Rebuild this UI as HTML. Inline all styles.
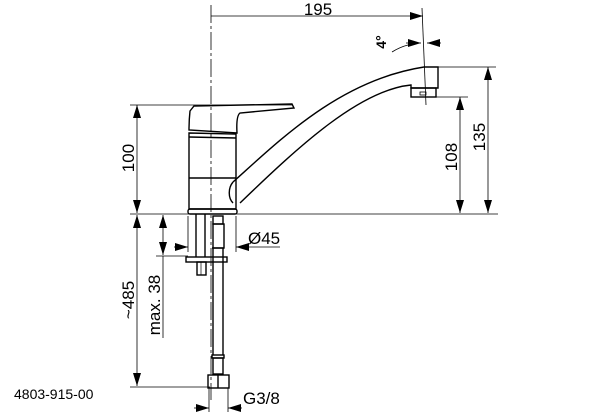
<!DOCTYPE html>
<html><head><meta charset="utf-8"><style>
html,body{margin:0;padding:0;background:#fff;width:614px;height:415px;overflow:hidden}
svg{display:block}
text{font-family:"Liberation Sans",sans-serif;fill:#000}
</style></head><body>
<svg width="614" height="415" viewBox="0 0 614 415" xmlns="http://www.w3.org/2000/svg">
<defs>
<marker id="a" markerWidth="13" markerHeight="8" refX="13" refY="4" orient="auto" markerUnits="userSpaceOnUse"><path d="M0,0 L13,4 L0,8 Z" fill="#000"/></marker>
</defs>
<g stroke="#000" fill="none" stroke-width="0.8">
<line x1="211" y1="5" x2="211" y2="400" stroke-dasharray="18,3,3,3"/>
<line x1="130" y1="105" x2="292" y2="105"/>
<line x1="130" y1="214" x2="498" y2="214"/>
<line x1="437" y1="67" x2="496" y2="67"/>
<line x1="436" y1="97" x2="468" y2="97"/>
<line x1="130" y1="387" x2="210" y2="387"/>
<line x1="156" y1="256" x2="188" y2="256"/>
<line x1="422" y1="8" x2="426" y2="105"/>
<line x1="188" y1="216" x2="188" y2="252"/>
<line x1="236" y1="216" x2="236" y2="252"/>
<line x1="209" y1="388" x2="209" y2="412"/>
<line x1="228" y1="388" x2="228" y2="412"/>
<line x1="211" y1="16" x2="423" y2="16" marker-end="url(#a)"/>
<line x1="137" y1="160" x2="137" y2="105" marker-end="url(#a)"/>
<line x1="137" y1="160" x2="137" y2="213" marker-end="url(#a)"/>
<line x1="460" y1="155" x2="460" y2="97" marker-end="url(#a)"/>
<line x1="460" y1="155" x2="460" y2="213" marker-end="url(#a)"/>
<line x1="488" y1="140" x2="488" y2="67" marker-end="url(#a)"/>
<line x1="488" y1="140" x2="488" y2="213" marker-end="url(#a)"/>
<line x1="137" y1="300" x2="137" y2="215" marker-end="url(#a)"/>
<line x1="137" y1="300" x2="137" y2="386" marker-end="url(#a)"/>
<line x1="163" y1="235" x2="163" y2="215" marker-end="url(#a)"/>
<line x1="163" y1="235" x2="163" y2="255" marker-end="url(#a)"/>
<line x1="163" y1="256" x2="163" y2="338"/>
<line x1="174" y1="247" x2="188" y2="247" marker-end="url(#a)"/>
<line x1="280" y1="247" x2="236" y2="247" marker-end="url(#a)"/>
<line x1="194" y1="408" x2="209" y2="408" marker-end="url(#a)"/>
<line x1="242" y1="408" x2="228" y2="408" marker-end="url(#a)"/>
<line x1="406" y1="43" x2="421" y2="43" marker-end="url(#a)"/>
<line x1="441" y1="43" x2="427" y2="43" marker-end="url(#a)"/>
<path d="M392,52 Q400,47 408,45"/>
</g>
<g stroke="#000" fill="none" stroke-width="1.4">
<path d="M233,182 C280,140 340,80 424,67 L438,67 L438,88 L411,88 L411,85 C360,90 300,145 240,203"/>
<path d="M233,182 C228,188 228,198 233,203"/>
<rect x="411" y="88" width="25" height="9"/>
<rect x="420" y="92" width="6" height="3" stroke-width="0.8"/>
<path d="M190,111 L194,106 L292,104 L294,108 L240,113 Q236,116 237,133 L189,130 Q189,120 190,111 Z"/>
<path d="M189,133 L236,134 L236,209 L189,209 Z"/>
<line x1="189" y1="137" x2="236" y2="138"/>
<line x1="189" y1="178" x2="236" y2="178"/>
<rect x="188" y="209" width="49" height="5" rx="2"/>
<line x1="196" y1="214" x2="196" y2="257"/>
<line x1="205" y1="214" x2="205" y2="257"/>
<rect x="186" y="257" width="41" height="5"/>
<rect x="197" y="262" width="9" height="13"/>
<line x1="201" y1="262" x2="201" y2="275" stroke-width="0.7"/>
<rect x="213" y="216" width="10" height="8"/>
<rect x="213" y="224" width="11" height="24"/>
<line x1="212" y1="248" x2="224" y2="248"/>
<line x1="213" y1="248" x2="213" y2="355"/>
<line x1="223" y1="248" x2="223" y2="355"/>
<rect x="212" y="355" width="12" height="3"/>
<rect x="213" y="358" width="10" height="16"/>
<rect x="208" y="375" width="21" height="13"/>
<line x1="218" y1="375" x2="218" y2="388"/>
</g>
<text x="248" y="244" font-size="17">Ø45</text>
<text x="318" y="15" font-size="17" text-anchor="middle">195</text>
<text x="243" y="404" font-size="17">G3/8</text>
<text x="14" y="399" font-size="14">4803-915-00</text>
<text transform="translate(386,42) rotate(-90)" font-size="14" font-weight="bold" text-anchor="middle">4°</text>
<text transform="translate(134,158) rotate(-90)" font-size="17" text-anchor="middle">100</text>
<text transform="translate(134,300) rotate(-90)" font-size="17" text-anchor="middle">~485</text>
<text transform="translate(160,305) rotate(-90)" font-size="17" text-anchor="middle">max. 38</text>
<text transform="translate(457,157) rotate(-90)" font-size="17" text-anchor="middle">108</text>
<text transform="translate(485,137) rotate(-90)" font-size="17" text-anchor="middle">135</text>
</svg>
</body></html>
